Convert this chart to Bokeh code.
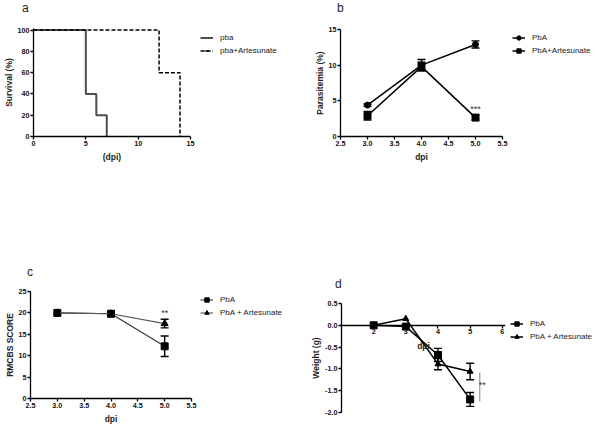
from bokeh.plotting import figure
from bokeh.models import (ColumnDataSource, Whisker, TeeHead, Legend, LegendItem,
                          Label, Range1d, FixedTicker, PrintfTickFormatter, Spacer)
from bokeh.layouts import column, row
from bokeh.embed import file_html
from bokeh.resources import INLINE

FONT = "Liberation Sans"
NAN = float("nan")

# ---------------- data ----------------
# panel a : survival (Kaplan-Meier)
a_pba_x = [0, 5, 6, 7]
a_pba_y = [100, 40, 20, 0]
a_art_x = [0, 12, 14]
a_art_y = [100, 60, 0]
a_xticks = [0, 5, 10, 15]
a_yticks = [0, 20, 40, 60, 80, 100]
a_labels = ["pba", "pba+Artesunate"]

# panel b : parasitemia
b_dpi = [3.0, 4.0, 5.0]
b_pba = [4.4, 10.0, 12.9]
b_pba_err = [0.15, 0.8, 0.5]
b_art = [2.9, 9.8, 2.65]
b_art_err = [0.6, 0.6, 0.35]
b_xticks = [2.5, 3.0, 3.5, 4.0, 4.5, 5.0, 5.5]
b_yticks = [0, 5, 10, 15]
b_sig = "***"
b_sig_pos = (5.0, 3.9)
b_labels = ["PbA", "PbA+Artesunate"]

# panel c : RMCBS score
c_dpi = [3.0, 4.0, 5.0]
c_pba = [20.0, 19.8, 12.2]
c_pba_err = [0.0, 0.2, 2.4]
c_art = [20.0, 19.8, 17.5]
c_art_err = [0.0, 0.2, 1.0]
c_xticks = [2.5, 3.0, 3.5, 4.0, 4.5, 5.0, 5.5]
c_yticks = [0, 5, 10, 15, 20, 25]
c_sig = "**"
c_sig_pos = (5.0, 19.9)
c_labels = ["PbA", "PbA + Artesunate"]

# panel d : weight
d_dpi = [2, 3, 4, 5]
d_pba = [0.0, -0.03, -0.68, -1.70]
d_pba_err = [0.0, 0.0, 0.15, 0.16]
d_art = [0.0, 0.15, -0.89, -1.06]
d_art_err = [0.0, 0.0, 0.13, 0.19]
d_xticks = [2, 3, 4, 5, 6]
d_yticks = [0.5, 0.0, -0.5, -1.0, -1.5, -2.0]
d_sig = "**"
d_sig_line_x = [5.3, 5.3]
d_sig_line_y = [-1.08, -1.75]
d_sig_pos = (5.38, -1.36)
d_labels = ["PbA", "PbA + Artesunate"]

# series styles: (line colour, line width, dash, marker, marker size)
A_STY = [("#4d4d4d", 2.0, "solid", "dash", 6), ("black", 1.5, "4 2", "dash", 6)]
B_STY = [("black", 1.5, "solid", "circle", 6), ("black", 1.5, "solid", "square", 7)]
C_STY = [("#333333", 1.1, "solid", "square", 7), ("#555555", 1.1, "solid", "triangle", 7)]
D_STY = [("black", 1.5, "solid", "square", 7), ("black", 1.5, "solid", "triangle", 6)]


def bare_fig(w, h):
    q = figure(width=w, height=h, x_range=Range1d(0, 1), y_range=Range1d(0, 1),
               output_backend="svg", toolbar_location=None, title=None,
               x_axis_location=None, y_axis_location=None,
               min_border=0, min_border_left=0, min_border_right=0,
               min_border_top=0, min_border_bottom=0)
    q.outline_line_color = None
    q.grid.visible = False
    return q


def style_legend(leg, lh, font_size):
    leg.glyph_height = lh
    leg.label_height = lh
    leg.padding = 0
    leg.margin = 0
    leg.border_line_color = None
    leg.background_fill_alpha = 0
    leg.label_text_font = FONT
    leg.label_text_font_size = font_size
    leg.label_text_color = "#222222"


def letter_box(w, letter, lx, ly):
    """Panel letter: a one-entry, glyph-less legend in a bare figure."""
    h = 13
    q = bare_fig(w - lx, h)
    r = q.line([NAN], [NAN], line_alpha=0)
    leg = Legend(items=[LegendItem(label=letter, renderers=[r])],
                 location="top_left")
    style_legend(leg, h, "12px")
    leg.glyph_width = 0
    leg.label_standoff = 0
    q.add_layout(leg)
    return column(Spacer(width=w, height=ly - 6),
                  row(Spacer(width=lx, height=h), q))


def legend_box(w, labels, styles, dx, dy):
    """A bare figure that only holds a panel's legend, offset by spacers."""
    lh = 11
    sp = 2
    h = 2 * lh + sp + 2
    q = bare_fig(w, h)
    items = []
    for lab, (col, lw, dash, mk, ms) in zip(labels, styles):
        r1 = q.line([NAN], [NAN], line_color=col, line_width=lw, line_dash=dash)
        if mk == "dash":
            r2 = q.scatter([NAN], [NAN], marker="dash", angle=1.5708, size=ms,
                           line_color=col, line_width=1.2)
        else:
            r2 = q.scatter([NAN], [NAN], marker=mk, size=ms, color="black")
        items.append(LegendItem(label=lab, renderers=[r1, r2]))
    leg = Legend(items=items, location="top_left")
    style_legend(leg, lh, "8px")
    leg.glyph_width = 13
    leg.spacing = sp
    leg.label_standoff = 7
    q.add_layout(leg)
    return column(Spacer(width=w + dx, height=dy),
                  row(Spacer(width=dx, height=h), q))


def make_fig(w, h, xr, yr, bl, br, bt, bb, xlabel, ylabel, xticks, yticks):
    p = figure(width=w, height=h, x_range=Range1d(*xr), y_range=Range1d(*yr),
               output_backend="svg", toolbar_location=None, title=None,
               min_border_left=bl, min_border_right=br,
               min_border_top=bt, min_border_bottom=bb)
    p.outline_line_color = None
    p.grid.visible = False
    for ax in (p.xaxis[0], p.yaxis[0]):
        ax.axis_line_color = "black"
        ax.axis_line_width = 1.3
        ax.major_tick_line_color = "black"
        ax.major_tick_line_width = 1.3
        ax.major_tick_out = 3
        ax.major_tick_in = 0
        ax.minor_tick_line_color = None
        ax.major_label_text_font = FONT
        ax.major_label_text_font_size = "7.2px"
        ax.major_label_text_font_style = "bold"
        ax.major_label_text_color = "#111111"
        ax.major_label_standoff = 1
        ax.axis_label_text_font = FONT
        ax.axis_label_text_font_size = "8.5px"
        ax.axis_label_text_font_style = "bold"
        ax.axis_label_text_color = "#222222"
        ax.axis_label_standoff = 1
    p.xaxis[0].axis_label_standoff = 3
    p.xaxis[0].ticker = FixedTicker(ticks=xticks)
    p.yaxis[0].ticker = FixedTicker(ticks=yticks)
    p.xaxis[0].axis_label = xlabel
    p.yaxis[0].axis_label = ylabel
    return p


def add_err(p, xs, ys, es, color="black", lw=1.4):
    src = ColumnDataSource(dict(x=xs,
                                upper=[y + e for y, e in zip(ys, es)],
                                lower=[y - e for y, e in zip(ys, es)]))
    w = Whisker(base="x", upper="upper", lower="lower", source=src,
                line_color=color, line_width=lw,
                upper_head=TeeHead(size=8, line_color=color, line_width=lw),
                lower_head=TeeHead(size=8, line_color=color, line_width=lw))
    p.add_layout(w)


def sig_label(p, txt, pos, color="#333333"):
    p.add_layout(Label(x=pos[0], y=pos[1], text=txt, text_font=FONT,
                       text_font_size="9px", text_color=color,
                       text_align="center", text_baseline="middle"))


def draw_series(p, xs, ys, sty):
    col, lw, dash, mk, ms = sty
    p.line(xs, ys, line_color=col, line_width=lw, line_dash=dash)
    p.scatter(xs, ys, marker=mk, size=ms, color="black")


# ---------------- panel a ----------------
pa = make_fig(196, 250, (0, 15), (0, 101.5), 30, 6, 14, 128,
              "(dpi)", "Survival (%)", a_xticks, a_yticks)
pa.step(a_pba_x, a_pba_y, mode="after", line_color=A_STY[0][0],
        line_width=A_STY[0][1])
pa.step(a_art_x, a_art_y, mode="after", line_color=A_STY[1][0],
        line_width=A_STY[1][1], line_dash=A_STY[1][2])
ta = letter_box(196, "a", 22, 7)
la = legend_box(108, a_labels, A_STY, 4, 32)

# ---------------- panel b ----------------
pb = make_fig(200, 250, (2.5, 5.5), (0, 15), 32, 6, 15, 128,
              "dpi", "Parasitemia (%)", b_xticks, b_yticks)
pb.xaxis[0].formatter = PrintfTickFormatter(format="%.1f")
add_err(pb, b_dpi, b_pba, b_pba_err)
add_err(pb, b_dpi, b_art, b_art_err)
draw_series(pb, b_dpi, b_pba, B_STY[0])
draw_series(pb, b_dpi, b_art, B_STY[1])
sig_label(pb, b_sig, b_sig_pos)
tb = letter_box(200, "b", 29, 7)
lb = legend_box(88, b_labels, B_STY, 4, 32)

# ---------------- panel c ----------------
pc = make_fig(197, 148, (2.5, 5.5), (0, 25), 30, 6, 13, 28,
              "dpi", "RMCBS SCORE", c_xticks, c_yticks)
pc.xaxis[0].formatter = PrintfTickFormatter(format="%.1f")
add_err(pc, c_dpi[2:], c_pba[2:], c_pba_err[2:])
add_err(pc, c_dpi[2:], c_art[2:], c_art_err[2:])
draw_series(pc, c_dpi, c_pba, C_STY[0])
draw_series(pc, c_dpi, c_art, C_STY[1])
sig_label(pc, c_sig, c_sig_pos)
tc = letter_box(197, "c", 27, 7)
lc = legend_box(108, c_labels, C_STY, 3, 30)

# ---------------- panel d ----------------
pd_ = make_fig(200, 136, (1, 6.1), (-2.0, 0.5), 33, 3, 13, 14,
               "dpi", "Weight (g)", d_xticks, d_yticks)
pd_.xaxis[0].fixed_location = 0
pd_.yaxis[0].formatter = PrintfTickFormatter(format="%.1f")
add_err(pd_, d_dpi[2:], d_pba[2:], d_pba_err[2:])
add_err(pd_, d_dpi[2:], d_art[2:], d_art_err[2:])
draw_series(pd_, d_dpi, d_pba, D_STY[0])
draw_series(pd_, d_dpi, d_art, D_STY[1])
pd_.line(d_sig_line_x, d_sig_line_y, line_color="#999999", line_width=1.2)
sig_label(pd_, d_sig, d_sig_pos)
td = letter_box(200, "d", 27, 19)
ld = legend_box(90, d_labels, D_STY, 2, 54)

layout = column(row(column(ta, pa), la, column(tb, pb), lb),
                row(column(tc, pc), lc, column(td, pd_), ld))
open("out.html", "w").write(file_html(layout, INLINE))
